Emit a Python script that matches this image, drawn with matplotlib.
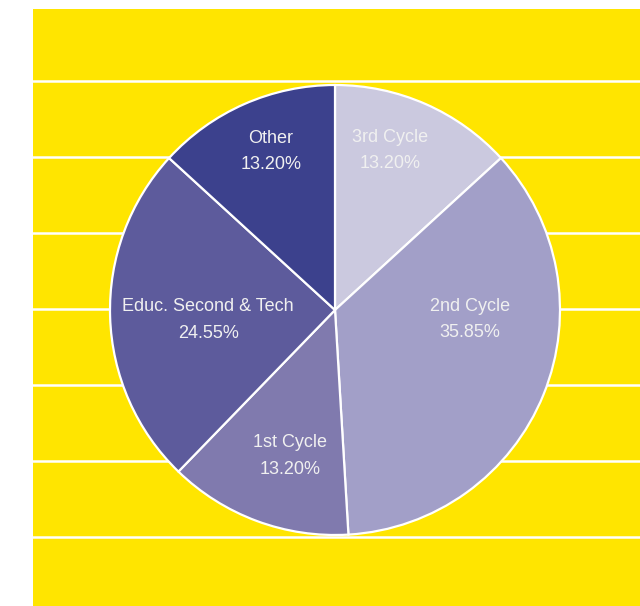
import numpy as np
import matplotlib.pyplot as plt

# slice data, clockwise from 12 o'clock
categories = ['3rd Cycle', '2nd Cycle', '1st Cycle', 'Educ. Second & Tech', 'Other']
shares = [13.20, 35.85, 13.20, 24.55, 13.20]
colors = ['#cbc9df', '#a29fc8', '#807aae', '#5d5b9c', '#3c418d']

# label placement inside each slice: (angle in degrees, fraction of radius)
label_angles = [70.9, -4.0, 253.0, 184.5, 112.0]
label_radii = [0.75, 0.60, 0.68, 0.565, 0.76]

# decorative background bands
grid_levels = [0, 1, 2, 3, 4, 5, 6]

fig = plt.figure(figsize=(6.4, 6.06), dpi=100)

# yellow backdrop with white horizontal rules
bg = fig.add_axes([33 / 640, 0, 1 - 33 / 640, 597 / 606])
bg.set_facecolor('#ffe500')
bg.set_xlim(0, 1)
bg.set_ylim(-0.909, 6.953)
for lvl in grid_levels:
    bg.axhline(lvl, color='white', lw=1.8)
bg.set_xticks([])
bg.set_yticks([])
for s in bg.spines.values():
    s.set_visible(False)

# pie on its own axes
ax = fig.add_axes([110 / 640, 71 / 606, 450 / 640, 450 / 606])
ax.pie(shares, colors=colors, startangle=90, counterclock=False,
       wedgeprops=dict(edgecolor='white', linewidth=1.6))
ax.set_xlim(-1.0, 1.0)
ax.set_ylim(-1.0, 1.0)
ax.set_aspect('equal')
ax.axis('off')

for name, val, ang, rr in zip(categories, shares, label_angles, label_radii):
    a = np.deg2rad(ang)
    ax.text(rr * np.cos(a), rr * np.sin(a), f'{name}\n{val:.2f}%',
            ha='center', va='center', color='#f0f0f0', fontsize=13,
            family='Liberation Sans', linespacing=1.75)

fig.savefig('out.png', dpi=100)
